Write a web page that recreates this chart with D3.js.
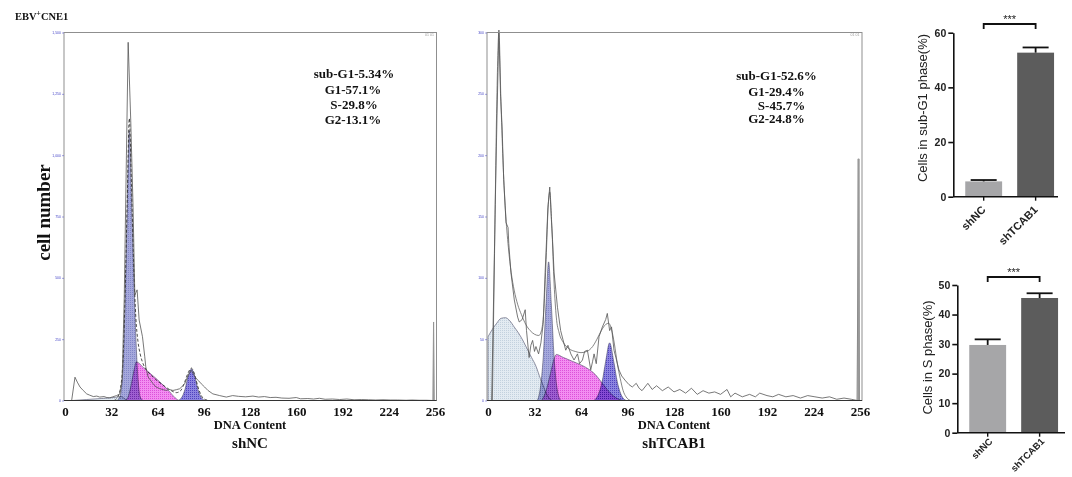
<!DOCTYPE html>
<html>
<head>
<meta charset="utf-8">
<script src="https://cdn.jsdelivr.net/npm/d3@7"></script>
<style>
body { margin: 0; background: #fff; }
svg { display: block; }
</style>
</head>
<body>
<svg id="fig" width="1072" height="477"></svg>
<script>
// ---- data ----
const dnaTicks = [0, 32, 64, 96, 128, 160, 192, 224, 256];
const ncYTicks = [0, 250, 500, 750, 1000, 1250, 1500];
const tcYTicks = [0, 50, 100, 150, 200, 250, 300];

// shNC histogram, [channel, count]
const ncRaw = [[3,0],[4.6,0],[6.9,95],[8.5,75],[10.4,55],[12.6,41],[15,27],[17,22],[19.6,16],[22,18],[24,14],[27,16],[29,12],[31,11],[33,15],[35.7,20],[38,27],[39.5,80],[41,420],[42.5,1000],[43.7,1460],[45.5,1140],[47.1,787],[48.3,430],[49.9,451],[51.3,328],[53.6,260],[55.2,178],[55.9,137],[57.5,96],[61,68],[63,55],[65.6,48],[68,44],[70.2,41],[72,45],[74.7,41],[77,44],[79.4,48],[82.8,68],[85,100],[87.4,123],[89,105],[90.9,89],[92.5,80],[94.3,68],[96.6,55],[98.9,41],[102.3,27],[107,20],[111.6,14],[116,20],[120,17],[125,15],[130,18],[134,14],[138,16],[142,12],[146,13],[150,10],[155,9],[160,12],[163,7],[168,8],[172,6],[176,9],[180,5],[185,6],[190,4],[195,6],[200,3],[205,4],[210,3],[215,2],[220,3],[225,2],[230,2],[236,1],[240,2],[245,1],[250,1],[254.6,0],[255,320],[255.4,0]];
const ncFit = [[34,0],[36,10],[38,40],[40,150],[41.5,420],[43,800],[44.5,1150],[46,880],[47.5,560],[49,340],[50.5,240],[52,190],[54,150],[57,120],[61,95],[65,75],[69,58],[73,42],[77,32],[80,40],[82.5,70],[85,110],[87.4,132],[89.5,110],[92,55],[94.5,18],[97,4],[100,0]];
const ncDebris = [[5,0],[15,4],[25,8],[35,13],[39,16],[41,8],[43,0]];
const ncG1 = [[36,0],[38,15],[40,120],[41.5,380],[43,760],[44.5,1100],[46,820],[47.5,520],[49,260],[50.5,90],[52,15],[54,0]];
const ncS = [[42,0],[44,20],[46,70],[48,130],[49.3,157],[55,130],[61,100],[67,68],[72,38],[76,12],[78.5,0]];
const ncG2 = [[78,0],[80.5,10],[83,45],[85.5,105],[87.4,128],[89.5,105],[92,45],[94.5,10],[97,0]];
const ncLabels = ["sub-G1-5.34%", "G1-57.1%", "S-29.8%", "G2-13.1%"];

// shTCAB1 histogram
const tcRaw = [[0,0],[2.5,0],[3.5,60],[5,160],[6.2,232],[7.5,302],[8.6,250],[9.7,223],[10.8,180],[12.4,145],[13.8,141],[14.3,128],[15.8,104],[18.1,82],[20.4,68],[21.5,64],[23.5,66],[25.6,74],[26.5,57],[28.3,35],[29.5,45],[30.7,49],[32,40],[33,44],[34.8,38],[36.4,47],[38,63],[39.3,104],[40.3,131],[41.2,157],[42.5,174],[43.5,150],[44.4,131],[45.5,104],[47.8,76],[50,57],[51.5,50],[53.5,41],[55,45],[57,38],[59.2,33],[61.6,38],[63,30],[65,33],[66.5,40],[68.4,41],[70.7,25],[72,32],[73,38],[74.5,30],[76.4,52],[78.7,60],[81,66],[82.1,71],[83.7,57],[85,60],[86.7,41],[88,35],[90.1,25],[92,20],[94.7,16],[97,13],[99.3,11],[102,14],[104,10],[106,8],[110,14],[113,9],[116,12],[120,8],[124,11],[128,7],[132,9],[136,6],[140,10],[144,5],[148,8],[152,6],[156,7],[160,5],[164.5,9],[167,3],[170,6],[175,3],[180,5],[184,3],[187,6],[192,4],[196,3],[200,5],[205,3],[210,4],[215,2],[220,4],[225,3],[230,2],[235,3],[240,1],[245,2],[250,1],[254,0],[255,197],[255.6,0]];
const tcFit = [[3,0],[4.5,120],[6,240],[7.5,300],[9,240],[10.5,190],[12,155],[14,125],[16,104],[18,90],[20.5,78],[23,70],[26,62],[29,57],[32,54],[35,53],[37,58],[38.5,75],[40,115],[41.5,160],[42.5,170],[44,140],[45.5,95],[47,68],[49,55],[52,47],[56,42],[60,40],[64,39],[68,40],[72,44],[75,50],[78,57],[81,62],[83,63],[85,58],[87,46],[89,30],[91,18],[93,8],[95,3],[98,0]];
const tcDebris = [[0,52],[3,58],[6,63],[9,67],[12,67.5],[15,65],[18,60],[21,55],[24,49],[27,42],[30,35],[33,28],[36,18],[38,12],[40,6],[42,2],[44,0]];
const tcG1 = [[34,0],[36,10],[38,35],[40,80],[41.7,113],[43.5,80],[45.5,35],[47.5,10],[50,0]];
const tcS = [[37,0],[40,8],[43,22],[45.5,34],[47,37.5],[52,35],[58,32],[64,29],[70,25],[74,21],[78,15],[82,9],[86,4],[90,1],[93,0]];
const tcG2 = [[73,0],[76,5],[78.5,15],[81,32],[83.7,47],[86.5,32],[89,15],[91.5,5],[95,0]];
const tcLabels = ["sub-G1-52.6%", "G1-29.4%", "S-45.7%", "G2-24.8%"];

// bar charts
const groups = ["shNC", "shTCAB1"];
const subG1Mean = [5.6, 52.7];
const subG1Err = [0.5, 1.9];
const sPhaseMean = [29.7, 45.6];
const sPhaseErr = [1.9, 1.6];
const subG1Ticks = [0, 20, 40, 60];
const sPhaseTicks = [0, 10, 20, 30, 40, 50];
//

const svg = d3.select("#fig");
const serif = "'Liberation Serif', 'Times New Roman', serif";
const sans = "'Liberation Sans', Arial, sans-serif";

// fill textures for the fitted components
const defs = svg.append("defs");
function addPattern(id, size, base, dot) {
  let p = defs.append("pattern").attr("id", id)
    .attr("width", size).attr("height", size)
    .attr("patternUnits", "userSpaceOnUse");
  p.append("rect").attr("width", size).attr("height", size).attr("fill", base);
  p.append("rect").attr("width", 1).attr("height", 1).attr("fill", dot);
}
addPattern("pDebris", 2, "#e3ebf2", "#c3d1de");
addPattern("pG1", 2, "#a6a9dc", "#8286c8");
addPattern("pS", 2, "#f38ef1", "#dc52d9");
addPattern("pG2", 2, "#8c84e0", "#5044c0");
//

// title
svg.append("text")
  .attr("x", 15).attr("y", 19.5)
  .attr("font-family", serif).attr("font-weight", "bold").attr("font-size", 10.5)
  .attr("fill", "#111")
  .call(t => {
    t.append("tspan").text("EBV");
    t.append("tspan").attr("dy", -4).attr("font-size", 7.5).text("+");
    t.append("tspan").attr("dy", 4).text("CNE1");
  });

svg.append("text")
  .attr("transform", "translate(49.5,212.5) rotate(-90)")
  .attr("text-anchor", "middle")
  .attr("font-family", serif).attr("font-weight", "bold").attr("font-size", 19)
  .attr("fill", "#111")
  .text("cell number");
//

function drawHistogram(p) {
  let x = d3.scaleLinear().domain([0, 256]).range([p.x0, p.x1]);
  let y = d3.scaleLinear().domain([0, p.yMax]).range([p.bottom, p.top]);
  let g = svg.append("g");

  // fitted components, multiplied so overlaps darken
  let area = d3.area()
    .x(d => x(d[0]))
    .y0(y(0))
    .y1(d => y(d[1]))
    .curve(d3.curveMonotoneX);
  let comps = g.append("g").style("isolation", "isolate");
  p.components.forEach(c => {
    comps.append("path")
      .datum(c.data)
      .attr("d", area)
      .attr("fill", "url(#" + c.pattern + ")")
      .attr("stroke", "#4b4b66")
      .attr("stroke-width", 0.6)
      .style("mix-blend-mode", "multiply");
  });

  let line = d3.line().x(d => x(d[0])).y(d => y(d[1]));

  g.append("path")
    .datum(p.fit)
    .attr("d", line.curve(d3.curveMonotoneX))
    .attr("fill", "none")
    .attr("stroke", p.fitColor)
    .attr("stroke-width", 0.8)
    .attr("stroke-dasharray", p.fitDash);

  g.append("path")
    .datum(p.raw)
    .attr("d", line.curve(d3.curveLinear))
    .attr("fill", "none")
    .attr("stroke", "#555")
    .attr("stroke-width", 0.8);

  // the pile-up channel at 256 is drawn heavier in the original
  let last = p.raw[p.raw.length - 2];
  g.append("line")
    .attr("x1", x(last[0])).attr("x2", x(last[0]))
    .attr("y1", y(0)).attr("y2", y(last[1]))
    .attr("stroke", "#999").attr("stroke-width", p.spikeWidth);

  // frame
  g.append("rect")
    .attr("x", p.left).attr("y", p.top)
    .attr("width", p.right - p.left).attr("height", p.bottom - p.top)
    .attr("fill", "none").attr("stroke", "#8f8f8f").attr("stroke-width", 1);
  g.append("line")
    .attr("x1", p.left).attr("x2", p.right)
    .attr("y1", p.bottom).attr("y2", p.bottom)
    .attr("stroke", "#333").attr("stroke-width", 1);

  g.append("text")
    .attr("x", p.right - 7).attr("y", p.top + 3)
    .attr("text-anchor", "middle")
    .attr("font-family", sans).attr("font-size", 3.5).attr("fill", "#999")
    .text("01 01");

  // tiny blue count ticks
  let yAxis = g.append("g")
    .attr("transform", "translate(" + p.left + ",0)")
    .call(d3.axisLeft(y).tickValues(p.yTicks).tickSize(2).tickPadding(1));
  yAxis.select(".domain").remove();
  yAxis.selectAll("line").attr("stroke", "#4848c8").attr("stroke-width", 0.5);
  yAxis.selectAll("text").attr("font-size", 3.5).attr("fill", "#4848c8").attr("font-family", sans);

  let xAxis = g.append("g")
    .attr("transform", "translate(0," + p.bottom + ")")
    .call(d3.axisBottom(x).tickValues(dnaTicks).tickSize(0).tickPadding(6));
  xAxis.select(".domain").remove();
  xAxis.selectAll("text")
    .attr("font-family", serif).attr("font-weight", "bold").attr("font-size", 13)
    .attr("fill", "#111");

  g.append("text")
    .attr("x", x(128)).attr("y", p.bottom + 28.5)
    .attr("text-anchor", "middle")
    .attr("font-family", serif).attr("font-weight", "bold").attr("font-size", 12.5)
    .attr("fill", "#111")
    .text("DNA Content");
  g.append("text")
    .attr("x", x(128)).attr("y", p.bottom + 47.5)
    .attr("text-anchor", "middle")
    .attr("font-family", serif).attr("font-weight", "bold").attr("font-size", 15)
    .attr("fill", "#111")
    .text(p.name);

  // phase percentages
  g.selectAll(".pct")
    .data(p.labels)
    .enter()
    .append("text")
    .attr("class", "pct")
    .attr("x", (d, i) => p.labelX + p.labelDx[i])
    .attr("y", (d, i) => p.labelY[i])
    .attr("text-anchor", "middle")
    .attr("font-family", serif).attr("font-weight", "bold").attr("font-size", 13)
    .attr("fill", "#111")
    .text(d => d);
}

drawHistogram({
  name: "shNC", left: 64, right: 436.5, x0: 65, x1: 435, top: 32.5, bottom: 400.5,
  yMax: 1500, yTicks: ncYTicks, raw: ncRaw, fit: ncFit, fitColor: "#222", fitDash: "3,2", spikeWidth: 1,
  components: [
    {data: ncDebris, pattern: "pDebris"},
    {data: ncG1, pattern: "pG1"},
    {data: ncS, pattern: "pS"},
    {data: ncG2, pattern: "pG2"}
  ],
  labels: ncLabels, labelX: 354, labelDx: [0, -1, 0, -1], labelY: [77.5, 94, 109, 123.5]
});

drawHistogram({
  name: "shTCAB1", left: 487, right: 862, x0: 488, x1: 860, top: 32.5, bottom: 400.5,
  yMax: 300, yTicks: tcYTicks, raw: tcRaw, fit: tcFit, fitColor: "#666", fitDash: null, spikeWidth: 2.2,
  components: [
    {data: tcDebris, pattern: "pDebris"},
    {data: tcG1, pattern: "pG1"},
    {data: tcS, pattern: "pS"},
    {data: tcG2, pattern: "pG2"}
  ],
  labels: tcLabels, labelX: 776.5, labelDx: [0, 0, 5, 0], labelY: [79.5, 95.5, 109.5, 122.5]
});
//

function drawBars(b) {
  let x = d3.scaleBand().domain(groups).range([b.left, b.right]).paddingInner(0.29).paddingOuter(0.23);
  let y = d3.scaleLinear().domain([0, b.yMax]).range([b.bottom, b.top]);
  let g = svg.append("g");
  let colors = ["#a6a6a8", "#5c5c5c"];

  g.selectAll(".bar")
    .data(groups)
    .enter()
    .append("rect")
    .attr("class", "bar")
    .attr("x", d => x(d))
    .attr("width", x.bandwidth())
    .attr("y", (d, i) => y(b.mean[i]))
    .attr("height", (d, i) => y(0) - y(b.mean[i]))
    .attr("fill", (d, i) => colors[i]);

  // error bars (upper only)
  groups.forEach((d, i) => {
    let cx = x(d) + x.bandwidth() / 2;
    let top = y(b.mean[i] + b.err[i]);
    g.append("line")
      .attr("x1", cx).attr("x2", cx)
      .attr("y1", y(b.mean[i])).attr("y2", top)
      .attr("stroke", "#111").attr("stroke-width", 1.8);
    g.append("line")
      .attr("x1", cx - 13).attr("x2", cx + 13)
      .attr("y1", top).attr("y2", top)
      .attr("stroke", "#111").attr("stroke-width", 1.8);
  });

  let yAxis = g.append("g")
    .attr("transform", "translate(" + b.left + ",0)")
    .call(d3.axisLeft(y).tickValues(b.ticks).tickSize(5).tickSizeOuter(0).tickPadding(2));
  yAxis.selectAll("path, line").attr("stroke", "#111").attr("stroke-width", 1.6);
  yAxis.selectAll("text")
    .attr("font-family", sans).attr("font-weight", "bold").attr("font-size", 10.5)
    .attr("fill", "#222");

  g.append("line")
    .attr("x1", b.left).attr("x2", b.axisEnd)
    .attr("y1", y(0)).attr("y2", y(0))
    .attr("stroke", "#111").attr("stroke-width", 1.6);

  groups.forEach(d => {
    let cx = x(d) + x.bandwidth() / 2;
    g.append("line")
      .attr("x1", cx).attr("x2", cx)
      .attr("y1", y(0)).attr("y2", y(0) + 4)
      .attr("stroke", "#111").attr("stroke-width", 1.4);
    g.append("text")
      .attr("transform", "translate(" + (cx + b.tickDx) + "," + (y(0) + b.tickDy) + ") rotate(-45)")
      .attr("text-anchor", "end")
      .attr("dy", "0.35em")
      .attr("font-family", sans).attr("font-weight", "bold").attr("font-size", b.tickFont)
      .attr("fill", "#222")
      .text(d);
  });

  g.append("text")
    .attr("transform", "translate(" + b.labelX + "," + b.labelY + ") rotate(-90)")
    .attr("text-anchor", "middle")
    .attr("font-family", sans).attr("font-size", 13)
    .attr("fill", "#222")
    .text(b.label);

  // significance bracket
  let c1 = x(groups[0]) + x.bandwidth() / 2;
  let c2 = x(groups[1]) + x.bandwidth() / 2;
  g.append("path")
    .attr("d", "M" + c1 + "," + (b.bracketY + 5) + "V" + b.bracketY + "H" + c2 + "V" + (b.bracketY + 5))
    .attr("fill", "none").attr("stroke", "#111").attr("stroke-width", 1.8);
  g.append("text")
    .attr("x", (c1 + c2) / 2).attr("y", b.bracketY - 1.5)
    .attr("text-anchor", "middle")
    .attr("font-family", sans).attr("font-size", 11).attr("fill", "#222")
    .text("***");
}

drawBars({
  left: 953.3, right: 1066, axisEnd: 1058, top: 32.7, bottom: 196.7, yMax: 60,
  ticks: subG1Ticks, mean: subG1Mean, err: subG1Err, tickDx: 0, tickDy: 11, tickFont: 11,
  label: "Cells in sub-G1 phase(%)", labelX: 927, labelY: 108, bracketY: 24
});

drawBars({
  left: 957.3, right: 1070, axisEnd: 1065, top: 285, bottom: 432.7, yMax: 50,
  ticks: sPhaseTicks, mean: sPhaseMean, err: sPhaseErr, tickDx: 3, tickDy: 7, tickFont: 9.5,
  label: "Cells in S phase(%)", labelX: 931.5, labelY: 357.5, bracketY: 277
});
//
</script>
</body>
</html>
